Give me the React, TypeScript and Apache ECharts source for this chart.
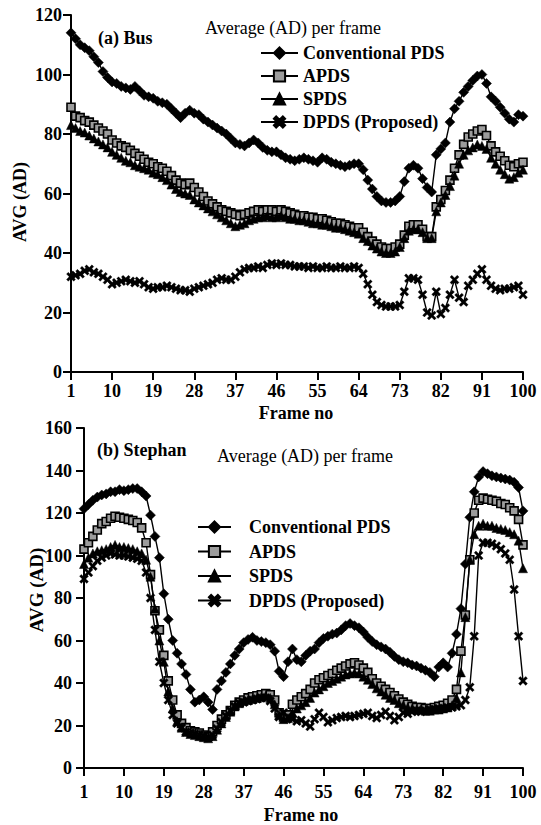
import React, { useEffect, useRef } from 'react';
import * as echarts from 'echarts';

const frames: string[] = Array.from({ length: 100 }, (_, i) => String(i + 1));
const seriesNames = ['Conventional PDS', 'APDS', 'SPDS', 'DPDS (Proposed)'];

// (a) Bus
const busConv = [114,112,110,109,108,106,104,101,99,97.5, 97,96,95.5,95,96,94.5,93,92.5,92,91, 90.5,90,88.5,87,85.5,87,88,87,86.5,85, 84,83,82,81,80,78.5,77,76.5,76,77, 78,77,75.5,74.5,74,74,73,72,71.5,71, 71.5,72,71.5,71,70.5,72,71.5,70.5,70,69.5, 69,69.5,70,70,68,64.5,61.5,59,57.5,57, 57,57.5,59,64,68.5,69.5,68.5,65,62,60.5, 73,75,77,84,88.5,91,94,96,98,99.5, 100,97,92.5,91,89,87,85,84,86.5,86];
const busAPDS = [89,86,85.5,84.5,84,83,82,81,80,78, 77,76,75.5,74.5,73.5,72.5,71.5,70.5,70,69, 68.5,67.5,66,64.5,63.5,63,63.5,62,60.5,59, 57.5,56.5,55.5,54.5,54,53.5,53,52.5,53,53.5, 54,54.5,54,54.5,54.5,54,54.5,54,53.5,53, 52.5,52.5,52,52,51.5,51.5,51,50.5,50,50, 49.5,49,48.5,48.5,47,45.5,44,43,42,41.5, 41.5,42,43,46,49,49.5,49.5,48,45.5,45.5, 55.5,58,61,64.5,68.5,73,76.5,79,80,81, 81.5,79.5,76,74,72.5,71,69.5,69,70,70.5];
const busSPDS = [83,82,81,80.5,79.5,78.5,77.5,76.5,75.5,74, 73,72,71,70.5,69.5,69,68.5,68,67,66.5, 65.5,64.5,63,61.5,60.5,60,59.5,58,57,56, 55,54,53,52,51,50,49,49.5,50,51, 51.5,52,52,52.5,52,52,52.5,52,51.5,51.5, 51,51,50.5,50,50,49.5,49.5,49,48.5,48.5, 48,47.5,47,46.5,45,44,42.5,41.5,40.5,40, 40,40.5,42,45,47.5,48,48,47,45,45, 54,57,59.5,62.5,66,70,73,74.5,75.5,76.5, 76,75,72,70,68,66.5,65,65.5,67,68];
const busDPDS = [32,32.5,33,34,34.5,33.5,33,32,31,29.5, 30,30.5,31,30.5,30,30.5,29.5,28.5,28,28.5, 28.5,29,28.5,28,27.5,27.5,27,28,28.5,29, 29.5,30,31,31.5,31,31,32,33.5,34.5,35, 35,35.5,35,36,36.5,36,36.5,36,36,35.5, 35.5,35.5,35,35.5,35,35,35.5,35,35,35.5, 35,35,35.5,35,33,29.5,26,23.5,22.5,22, 22,22,22.5,27,31.5,31.5,31,26,20,19, 27,19.5,21.5,26,31,25,23.5,29,31,33, 34.5,31,29,28,27.5,28,28,28.5,29,26];

// (b) Stephan
const stConv = [122,124,126,127.5,128.5,129,130,130,131,130.5, 131,131.5,131.5,130,128,119,109,99,82,70, 60,54,49,44,37,31,32,33.5,31,27.5, 37,41,45,49,53,56,59,60.5,61.5,60, 59.5,59,58,55,45.5,43,50,56,51,50, 53,55,56,59,61,62,63,63.5,65,67, 68,67,66,64,61.5,59.5,58,57,56,54.5, 52.5,51,50,49.5,48.5,48,47,46,45,43, 47.5,49.5,47.5,54,63,75,96,118,130,137, 139.5,138.5,137.5,137,136.5,136,135.5,134.5,132,121];
const stAPDS = [103,106,109,112,115,116,117.5,118.5,118,117.5, 117,116.5,115.5,113,106,91,74,65,53,41, 32,25,21,19,17.5,17,16.5,15.5,15,17, 20,23,25,27,29.5,31,32,33,33.5,34, 34.5,35,34.5,32,26,24,25,30,32,33.5, 35,37,40,41.5,42.5,43.5,44.5,46,47,48, 49,49.5,48.5,47,45,42,40,38.5,37,35.5, 34,32.5,31,30,29,28.5,28.5,28,28,28.5, 29,29.5,30.5,32,37,55,72,98,120,126, 127,126.5,126,125.5,124.5,124,122.5,121,117,105];
const stSPDS = [96,99,101,102,102.5,103,104,105,104,104, 103.5,103,102,101,98,90,75,60,50,36, 28,22,19,17,16,15.5,15,14.5,14,15, 18,21,24,26.5,29,30.5,31.5,32,32.5,33, 33.5,34,33,30,25,23,23.5,26,28,29.5, 31,33,35.5,37,38.5,40,41,42,43,44, 44.5,45,44.5,43,41.5,39.5,37.5,36,34.5,33, 32,30.5,29.5,28.5,28,27.5,27.5,27,27,27.5, 27.5,28,28.5,29.5,33,45,71,98,110,114, 115,114,114,113,112.5,112,111,110,107,94];
const stDPDS = [89,92,95,97.5,99,100,101,100.5,100,100, 99.5,99,98.5,97.5,92,80,65,50,40,32, 25,21,19,17,16.5,16,15.5,15,14.5,15.5, 18.5,21.5,24.5,27,29,30.5,31,31.5,32,32.5, 33,33,31.5,28,24,26,24,23,22,22.5, 21,19.5,23,26,24,21.5,22.5,23.5,24,24.5, 24,24.5,25,25.5,26,24.5,23.5,25,26.5,24.5, 22.5,24,26,25.5,26.5,27,26.5,27,27.5,27.5, 28,28,28.5,28.5,29,29.5,32,38,62,100, 106,106,105.5,104.5,103,101,98,84,62,41];

const FONT = '"Liberation Serif", "Times New Roman", serif';
const X_SYMBOL = 'path://M0,2 L2,0 L5,3 L8,0 L10,2 L7,5 L10,8 L8,10 L5,7 L2,10 L0,8 L3,5 Z';

function makeSeries(name: string, data: number[], idx: number) {
  const styles: Record<string, any> = {
    'Conventional PDS': { symbol: 'diamond', symbolSize: 10, itemStyle: { color: '#000', borderColor: '#000', borderWidth: 0.5 } },
    'APDS': { symbol: 'rect', symbolSize: 8, itemStyle: { color: '#9c9c9c', borderColor: '#000', borderWidth: 1.6 } },
    'SPDS': { symbol: 'triangle', symbolSize: 9, itemStyle: { color: '#000', borderColor: '#000', borderWidth: 0.5 } },
    'DPDS (Proposed)': { symbol: X_SYMBOL, symbolSize: 9, itemStyle: { color: '#000', borderColor: '#000', borderWidth: 0.3 } },
  };
  return {
    type: 'line',
    name,
    data,
    xAxisIndex: idx,
    yAxisIndex: idx,
    showAllSymbol: true,
    lineStyle: { color: '#000', width: 1.4 },
    emphasis: { disabled: true },
    ...styles[name],
  };
}

function xAxisCfg(gridIndex: number, margin: number) {
  return {
    type: 'category',
    gridIndex,
    data: frames,
    boundaryGap: false,
    axisLine: { lineStyle: { color: '#000', width: 2 } },
    axisTick: { interval: 8, length: 8, lineStyle: { color: '#000', width: 2 } },
    axisLabel: { interval: 8, margin, color: '#000', fontFamily: FONT, fontWeight: 'bold', fontSize: 18 },
    splitLine: { show: false },
  };
}

function yAxisCfg(gridIndex: number, max: number, margin: number) {
  return {
    type: 'value',
    gridIndex,
    min: 0,
    max,
    interval: 20,
    axisLine: { show: true, lineStyle: { color: '#000', width: 2 } },
    axisTick: { show: true, length: 8, lineStyle: { color: '#000', width: 2 } },
    axisLabel: { margin, color: '#000', fontFamily: FONT, fontWeight: 'bold', fontSize: 18 },
    splitLine: { show: false },
  };
}

const legendText = { fontFamily: FONT, fontWeight: 'bold', fontSize: 18, color: '#000', lineHeight: 18 };

export default function App() {
  const ref = useRef<HTMLDivElement>(null);
  useEffect(() => {
    document.body.style.margin = '0';
    if (!ref.current) return;
    const chart = echarts.init(ref.current, undefined, { renderer: 'svg' });
    chart.setOption({
      animation: false,
      backgroundColor: '#fff',
      grid: [
        { left: 71, top: 15, width: 452, height: 357 },
        { left: 84, top: 428, width: 439, height: 340 },
      ],
      xAxis: [xAxisCfg(0, 10), xAxisCfg(1, 15)],
      yAxis: [yAxisCfg(0, 120, 9), yAxisCfg(1, 160, 12)],
      legend: [
        { data: seriesNames, orient: 'vertical', left: 260, top: 44, padding: 0, itemWidth: 37, itemHeight: 14, itemGap: 5, selectedMode: false, textStyle: legendText },
        { data: seriesNames, orient: 'vertical', left: 197, top: 518, padding: 0, itemWidth: 33, itemHeight: 14, itemGap: 6.5, selectedMode: false, textStyle: { ...legendText, padding: [0, 0, 0, 13] } },
      ],
      graphic: [
        { type: 'text', x: 98, y: 38, style: { text: '(a) Bus', font: `bold 18px ${FONT}`, fill: '#000', align: 'left', verticalAlign: 'middle' } },
        { type: 'text', x: 205, y: 28, style: { text: 'Average (AD) per frame', font: `18px ${FONT}`, fill: '#000', align: 'left', verticalAlign: 'middle' } },
        { type: 'text', x: 97, y: 450, style: { text: '(b) Stephan', font: `bold 18px ${FONT}`, fill: '#000', align: 'left', verticalAlign: 'middle' } },
        { type: 'text', x: 217, y: 456, style: { text: 'Average (AD) per frame', font: `18px ${FONT}`, fill: '#000', align: 'left', verticalAlign: 'middle' } },
        { type: 'text', x: 20, y: 202, rotation: Math.PI / 2, style: { text: 'AVG (AD)', font: `bold 18px ${FONT}`, fill: '#000', align: 'center', verticalAlign: 'middle' } },
        { type: 'text', x: 36, y: 590, rotation: Math.PI / 2, style: { text: 'AVG (AD)', font: `bold 19px ${FONT}`, fill: '#000', align: 'center', verticalAlign: 'middle' } },
        { type: 'text', x: 296, y: 413, style: { text: 'Frame no', font: `bold 18px ${FONT}`, fill: '#000', align: 'center', verticalAlign: 'middle' } },
        { type: 'text', x: 301, y: 815, style: { text: 'Frame no', font: `bold 18px ${FONT}`, fill: '#000', align: 'center', verticalAlign: 'middle' } },
      ],
      series: [
        makeSeries('Conventional PDS', busConv, 0),
        makeSeries('APDS', busAPDS, 0),
        makeSeries('SPDS', busSPDS, 0),
        makeSeries('DPDS (Proposed)', busDPDS, 0),
        makeSeries('Conventional PDS', stConv, 1),
        makeSeries('APDS', stAPDS, 1),
        makeSeries('SPDS', stSPDS, 1),
        makeSeries('DPDS (Proposed)', stDPDS, 1),
      ],
    });
    return () => chart.dispose();
  }, []);
  return <div ref={ref} style={{ width: 541, height: 825 }} />;
}
